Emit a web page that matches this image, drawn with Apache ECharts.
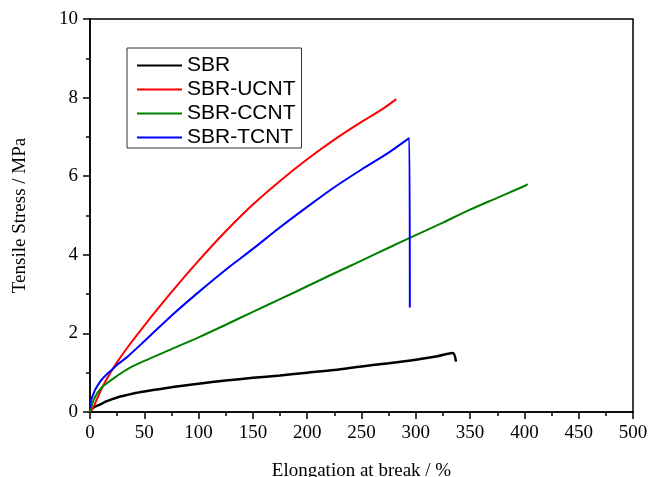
<!DOCTYPE html>
<html>
<head>
<meta charset="utf-8">
<script src="https://cdn.jsdelivr.net/npm/echarts@6/dist/echarts.min.js"></script>
<style>
html, body { margin: 0; padding: 0; background: #fff; }
#chart { width: 649px; height: 477px; }
</style>
</head>
<body>
<div id="chart"></div>
<script>
// strain (%) and stress (MPa)
var sbrX = [0, 2, 5, 10, 15, 25, 40, 50, 75, 100, 125, 150, 175, 200, 225, 250, 275, 300, 320, 334, 337];
var sbrY = [0, 0.08, 0.14, 0.2, 0.27, 0.37, 0.47, 0.52, 0.63, 0.72, 0.8, 0.87, 0.93, 1.0, 1.07, 1.16, 1.24, 1.33, 1.42, 1.5, 1.28];

var ucntX = [0, 3, 6, 10, 15, 20, 25, 35, 50, 75, 100, 125, 150, 175, 200, 225, 250, 270, 282];
var ucntY = [0, 0.12, 0.3, 0.55, 0.82, 1.05, 1.27, 1.66, 2.2, 3.05, 3.85, 4.6, 5.28, 5.88, 6.43, 6.93, 7.38, 7.72, 7.96];

var ccntX = [0, 2, 5, 10, 15, 25, 35, 50, 75, 100, 125, 150, 175, 200, 225, 250, 275, 300, 325, 350, 375, 400, 403];
var ccntY = [0, 0.2, 0.4, 0.6, 0.72, 0.92, 1.1, 1.3, 1.6, 1.9, 2.22, 2.55, 2.87, 3.2, 3.53, 3.85, 4.18, 4.5, 4.82, 5.15, 5.45, 5.75, 5.8];

var tcntX = [0, 1, 3, 5, 10, 15, 20, 25, 35, 50, 75, 100, 125, 150, 175, 200, 225, 250, 275, 294, 294.5];
var tcntY = [0.12, 0.3, 0.45, 0.58, 0.8, 0.95, 1.07, 1.2, 1.42, 1.8, 2.45, 3.05, 3.62, 4.15, 4.7, 5.22, 5.72, 6.17, 6.6, 6.97, 2.66];

var names = ['SBR', 'SBR-UCNT', 'SBR-CCNT', 'SBR-TCNT'];
var colors = ['#000000', '#ff0000', '#008000', '#0000ff'];

function pairs(xs, ys) {
  var out = [];
  for (var i = 0; i < xs.length; i++) out.push([xs[i], ys[i]]);
  return out;
}
var allData = [pairs(sbrX, sbrY), pairs(ucntX, ucntY), pairs(ccntX, ccntY), pairs(tcntX, tcntY)];

var myChart = echarts.init(document.getElementById('chart'));

var serif = '"Liberation Serif", "Times New Roman", serif';

var option = {
  backgroundColor: '#fff',
  animation: false,
  grid: {
    left: 90, right: 16, top: 19, bottom: 65,
    outerBoundsMode: 'none',
    show: true, borderColor: '#000', borderWidth: 1.5
  },
  legend: {
    orient: 'vertical',
    left: 127, top: 48,
    icon: 'rect',
    itemWidth: 45, itemHeight: 2, itemGap: 3,
    padding: [7, 6, 0, 10],
    borderColor: '#333', borderWidth: 1,
    textStyle: { fontFamily: '"Liberation Sans", Arial, sans-serif', fontSize: 21, lineHeight: 21, color: '#000' },
    data: names
  },
  xAxis: {
    type: 'value', min: 0, max: 500, interval: 50,
    name: 'Elongation at break / %',
    nameLocation: 'middle', nameGap: 50,
    nameTextStyle: { fontFamily: serif, fontSize: 19, color: '#000' },
    axisLine: { lineStyle: { color: '#000', width: 1.5 } },
    axisTick: { show: true, length: 7, lineStyle: { color: '#000', width: 1.5 } },
    minorTick: { show: true, splitNumber: 2, length: 4, lineStyle: { color: '#000', width: 1.5 } },
    axisLabel: { fontFamily: serif, fontSize: 19, color: '#000', margin: 12 },
    splitLine: { show: false }
  },
  yAxis: {
    type: 'value', min: 0, max: 10, interval: 2,
    name: 'Tensile Stress / MPa',
    nameLocation: 'middle', nameGap: 60,
    nameTextStyle: { fontFamily: serif, fontSize: 19, color: '#000' },
    axisLine: { show: true, lineStyle: { color: '#000', width: 1.5 } },
    axisTick: { show: true, length: 7, lineStyle: { color: '#000', width: 1.5 } },
    minorTick: { show: true, splitNumber: 2, length: 4, lineStyle: { color: '#000', width: 1.5 } },
    axisLabel: { fontFamily: serif, fontSize: 19, color: '#000', margin: 12 },
    splitLine: { show: false }
  },
  series: names.map(function (n, i) {
    return {
      name: n,
      type: 'line',
      smooth: 0.3,
      symbol: 'none',
      data: allData[i],
      lineStyle: { color: colors[i], width: i === 0 ? 2.5 : 2 },
      itemStyle: { color: colors[i] }
    };
  })
};

myChart.setOption(option);
</script>
</body>
</html>
